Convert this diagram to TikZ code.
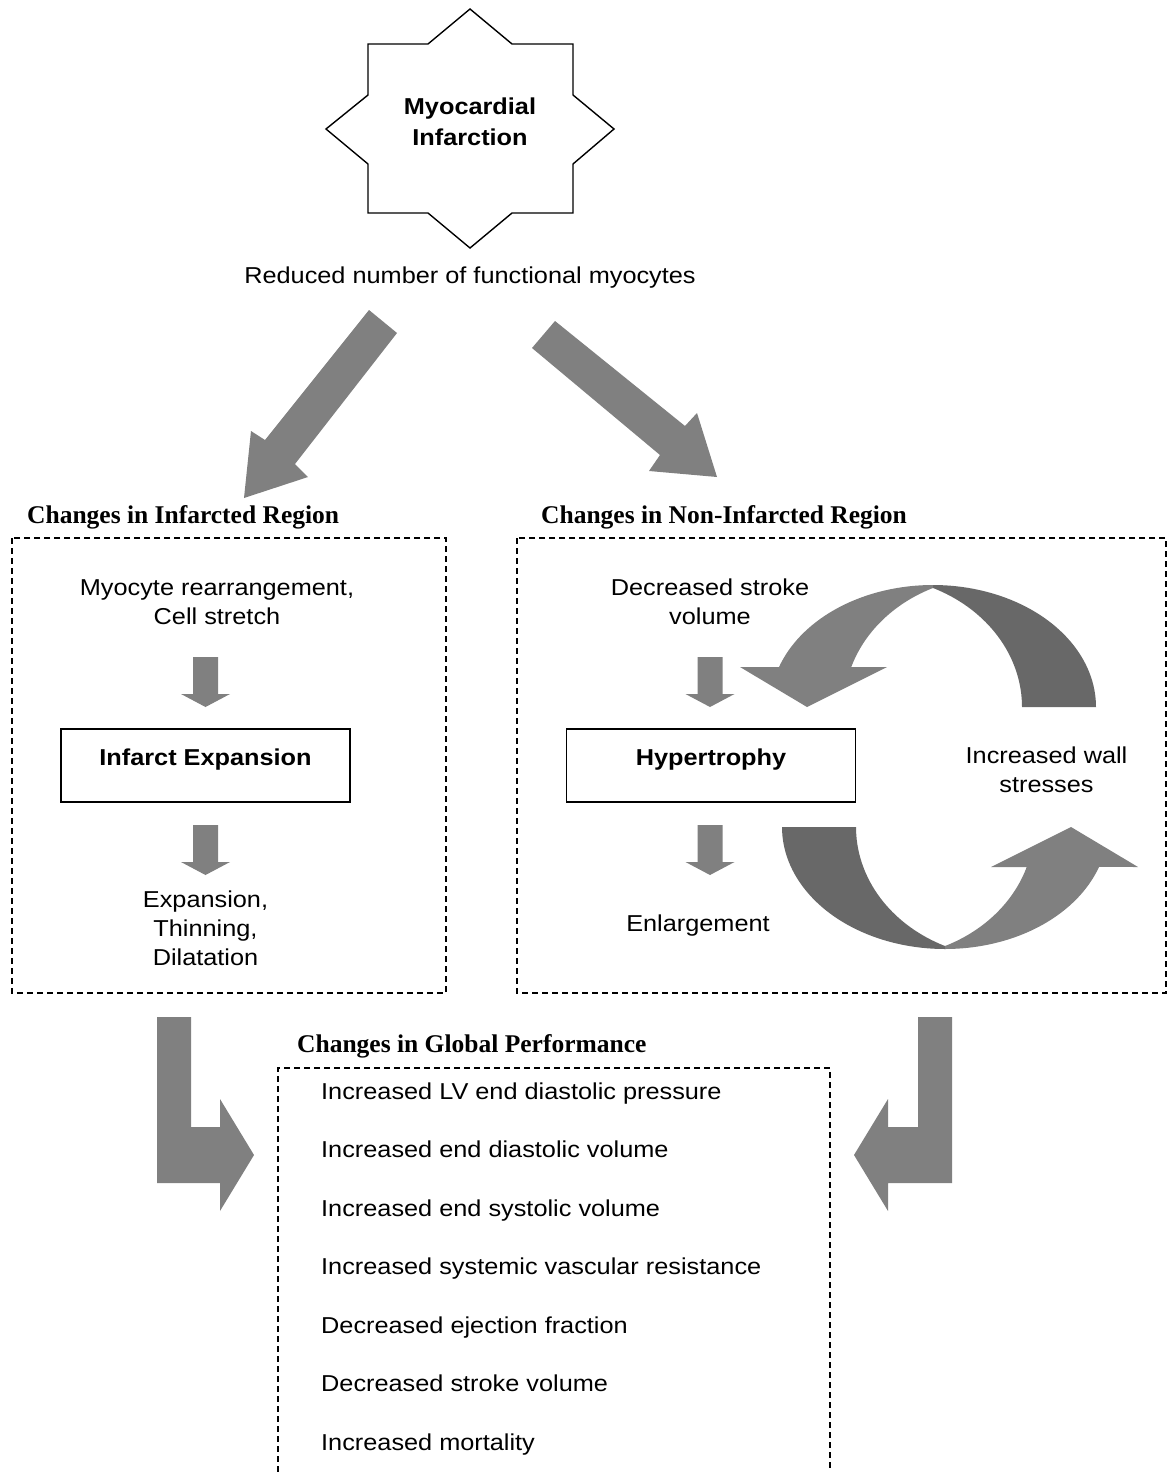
\documentclass[tikz,border=0pt]{standalone}
\usepackage{fontspec}
\setmainfont{Liberation Sans}[FakeStretch=1.1]
\newfontfamily\hdrfont{Liberation Serif}
\definecolor{agrayc}{HTML}{808080}
\definecolor{adarkc}{HTML}{686868}
\newcommand\sdarrow[2]{\fill[agray] (#1-12.5,#2) -- (#1+12.5,#2) -- (#1+12.5,#2+37) -- (#1+24.5,#2+37) -- (#1,#2+50) -- (#1-24.5,#2+37) -- (#1-12.5,#2+37) -- cycle;}
\newcommand\mycycarrow{%
  \fill[adark] plot[domain=90:0, samples=45] ({933+163*cos(\x)},{707-122*sin(\x)})
     -- plot[domain=0:65.5, samples=35] ({870+152*cos(\x)},{707-130.8*sin(\x)}) -- cycle;
  \fill[agray] plot[domain=90:160.9, samples=45] ({933+163*cos(\x)},{707-122*sin(\x)})
     -- (740,667) -- (807,707) -- (887,667) -- (851.3,667)
     -- plot[domain=162.2:114.5, samples=35] ({996+152*cos(\x)},{707-130.8*sin(\x)}) -- cycle;}
\begin{document}
\begin{tikzpicture}[x=1pt,y=-1pt,
  txt/.style={font=\fontsize{23}{28.5}\selectfont, inner sep=0pt, align=center},
  one/.style={text height=17pt, text depth=1pt},
  btxt/.style={txt, font=\fontsize{23}{28.5}\selectfont\bfseries},
  hdr/.style={font=\hdrfont\fontsize{25.5}{30}\selectfont\bfseries, inner sep=0pt, anchor=west, text height=18pt, text depth=1pt},
  dbox/.style={draw, dash pattern=on 6pt off 4pt, line width=1.2pt},
  sbox/.style={draw, line width=1.4pt, minimum width=289pt, minimum height=73pt, inner sep=0pt},
  agray/.style={fill=agrayc},
  adark/.style={fill=adarkc}]
\useasboundingbox (0,0) rectangle (1168,1472);
\fill[white] (0,0) rectangle (1168,1472);

% star
\draw[line width=1.4pt, fill=white] (368,44) -- (428,44) -- (470,9) -- (512,44) -- (573,44) -- (573,95)
  -- (614,129) -- (573,164) -- (573,213) -- (512,213) -- (470,248) -- (428,213) -- (368,213)
  -- (368,164) -- (326,129) -- (368,95) -- cycle;
\node[btxt, font=\fontsize{23}{31}\selectfont\bfseries] (mi) at (470,121.5) {Myocardial\\Infarction};
\node[txt, one] (rn) at (470,275) {Reduced number of functional myocytes};

% big diagonal arrows
\fill[agray] (369,310) -- (397,333) -- (295,464) -- (308,477) -- (244,498) -- (251,431) -- (265,440) -- cycle;
\fill[agray] (555,321) -- (532,348) -- (660,455) -- (649,471) -- (717,477) -- (697,413) -- (685,426) -- cycle;

% headers
\node[hdr] (h1) at (27,515) {Changes in Infarcted Region};
\node[hdr] (h2) at (541,515) {Changes in Non-Infarcted Region};
\node[hdr] (h3) at (297,1044) {Changes in Global Performance};

% dashed boxes
\draw[dbox] (12,538) rectangle (446,993);
\draw[dbox] (517,538) rectangle (1166,993);
\draw[dbox] (278,1472) -- (278,1068) -- (830,1068) -- (830,1472);

% left region
\node[txt] (mr) at (217,602) {Myocyte rearrangement,\\Cell stretch};
\sdarrow{205.5}{657}
\node[sbox] (iebox) at (205.5,765.5) {};
\node[btxt, one] (ie) at (205.5,757) {Infarct Expansion};
\sdarrow{205.5}{825}
\node[txt, font=\fontsize{23}{29}\selectfont] (etd) at (205.5,928) {Expansion,\\Thinning,\\Dilatation};

% right region
\node[txt] (dsv) at (710,602) {Decreased stroke\\volume};
\sdarrow{710}{657}
\node[sbox] (hybox) at (711,765.5) {};
\node[btxt, one] (hy) at (711,757) {Hypertrophy};
\sdarrow{710}{825}
\node[txt, one] (enl) at (698,923) {Enlargement};
\node[txt] (iws) at (1046.5,770) {Increased wall\\stresses};

% cycle arrows
\mycycarrow
\begin{scope}[rotate around={180:(939,767)}]
\mycycarrow
\end{scope}

% bent arrows
\fill[agray] (157,1017) -- (191,1017) -- (191,1127) -- (220,1127) -- (220,1099) -- (254,1155)
  -- (220,1211) -- (220,1183) -- (157,1183) -- cycle;
\fill[agray] (952,1017) -- (918,1017) -- (918,1127) -- (888,1127) -- (888,1099) -- (854,1155)
  -- (888,1211) -- (888,1183) -- (952,1183) -- cycle;

% global list
\foreach \t [count=\i] in {Increased LV end diastolic pressure, Increased end diastolic volume,
  Increased end systolic volume, Increased systemic vascular resistance,
  Decreased ejection fraction, Decreased stroke volume, Increased mortality}
  \node[txt, one, anchor=west] (g\i) at (321,{1091+58.5*(\i-1)}) {\t};
\end{tikzpicture}
\end{document}
